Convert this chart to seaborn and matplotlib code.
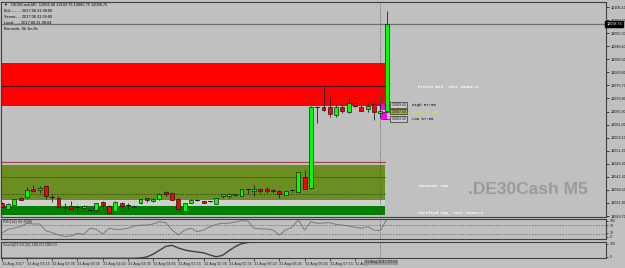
import numpy as np
import pandas as pd
import matplotlib
matplotlib.use("Agg")
import matplotlib.pyplot as plt
import matplotlib.transforms as mtrans
from matplotlib.patches import Rectangle
import seaborn as sns

# ---------------- data ----------------
opens = [12031.7, 12029.5, 12030.7, 12033.3, 12033.7, 12036.7, 12036.3, 12038.0, 12033.7, 12033.6,
         12029.7, 12030.5, 12030.0, 12029.6, 12029.0, 12028.8, 12031.8, 12030.5, 12028.5, 12031.5,
         12030.8, 12030.0, 12031.5, 12033.3, 12032.5, 12033.2, 12035.7, 12035.2, 12033.2, 12028.7,
         12031.7, 12032.7, 12032.3, 12032.2, 12031.3, 12034.2, 12034.2, 12034.5, 12034.3, 12036.7,
         12036.2, 12036.7, 12036.8, 12036.6, 12036.0, 12034.7, 12036.5, 12035.8, 12041.2, 12037.1,
         12067.5, 12067.7, 12067.7, 12064.6, 12067.5, 12065.8, 12069.0, 12067.5, 12066.7, 12068.7,
         12065.5, 12066.0]
highs = [12032.1, 12031.5, 12033.2, 12033.5, 12037.5, 12038.3, 12038.0, 12038.3, 12035.0, 12034.2,
         12031.5, 12032.3, 12030.8, 12030.8, 12029.1, 12031.7, 12032.5, 12030.7, 12032.5, 12032.1,
         12031.5, 12030.7, 12033.1, 12033.6, 12033.5, 12035.2, 12036.0, 12035.3, 12033.3, 12031.7,
         12032.9, 12033.1, 12032.4, 12032.3, 12033.4, 12035.1, 12035.2, 12035.1, 12036.8, 12037.0,
         12038.5, 12037.3, 12037.5, 12037.0, 12036.5, 12036.1, 12037.0, 12043.3, 12044.0, 12068.0,
         12068.0, 12074.6, 12071.7, 12068.7, 12068.7, 12071.5, 12070.0, 12068.3, 12069.0, 12069.0,
         12069.0, 12103.75]
lows = [12029.6, 12029.2, 12030.6, 12032.7, 12033.6, 12035.6, 12035.5, 12033.2, 12032.1, 12029.6,
        12028.0, 12029.2, 12028.0, 12029.2, 12028.9, 12028.6, 12030.2, 12027.9, 12028.2, 12029.6,
        12029.5, 12029.9, 12031.3, 12032.1, 12032.1, 12032.7, 12034.3, 12032.7, 12029.2, 12028.2,
        12031.6, 12032.3, 12031.4, 12032.1, 12031.2, 12033.3, 12033.3, 12034.3, 12034.2, 12034.8,
        12034.3, 12035.5, 12035.5, 12035.5, 12033.3, 12034.6, 12035.8, 12035.6, 12036.7, 12036.9,
        12061.7, 12066.2, 12064.0, 12064.0, 12065.2, 12065.2, 12067.7, 12066.0, 12065.8, 12062.7,
        12063.5, 12065.75]
closes = [12030.0, 12031.2, 12033.0, 12032.8, 12036.5, 12036.0, 12037.1, 12034.3, 12033.7, 12030.0,
          12030.1, 12029.3, 12030.0, 12030.3, 12029.0, 12031.5, 12030.7, 12028.0, 12032.1, 12030.3,
          12030.8, 12030.6, 12033.0, 12032.7, 12033.0, 12034.8, 12035.0, 12032.8, 12029.3, 12031.5,
          12032.8, 12032.7, 12031.5, 12032.2, 12033.3, 12034.8, 12035.0, 12035.0, 12036.7, 12036.7,
          12036.7, 12036.1, 12036.1, 12036.1, 12035.0, 12036.0, 12036.5, 12043.1, 12036.8, 12067.7,
          12067.5, 12066.5, 12065.0, 12067.5, 12066.2, 12069.2, 12068.0, 12066.2, 12068.0, 12065.6,
          12066.0, 12098.75]
rsi = [35, 52, 58, 64, 79, 76, 76, 46, 37, 27, 20, 23, 34, 30, 57, 52, 31, 57, 52, 52,
       57, 67, 71, 71, 76, 86, 82, 49, 27, 49, 57, 42, 49, 64, 74, 79, 79, 85, 91, 89,
       57, 54, 54, 49, 27, 49, 61, 94, 49, 86, 79, 80, 82, 74, 71, 67, 61, 57, 64, 49,
       46, 94.8]
stoch = [0] * 22 + [2, 8, 25, 48, 72, 78, 62, 50, 43, 38, 33, 20, 9, 18, 45, 70, 88, 95, 98] + [100] * 21

price_ticks = [12105.10, 12100.20, 12095.30, 12090.40, 12085.50, 12080.60, 12075.70, 12070.80,
               12065.90, 12061.00, 12056.10, 12051.20, 12046.30, 12041.40, 12036.50, 12031.60, 12026.70]
time_label_idx = [0, 4, 8, 12, 16, 20, 24, 28, 32, 36, 40, 44, 48, 52, 56]
time_labels = ["31 Aug 2017", "31 Aug 03:15", "31 Aug 03:35", "31 Aug 03:55", "31 Aug 04:15",
               "31 Aug 04:35", "31 Aug 04:55", "31 Aug 05:15", "31 Aug 05:35", "31 Aug 05:55",
               "31 Aug 06:15", "31 Aug 06:35", "31 Aug 06:55", "31 Aug 07:15", "31 Aug 07:35"]

# zones: (low, high)
res_zone = (12068.0, 12084.2)
res_mid = 12075.5
turncoat_zone = (12032.7, 12045.95)
turncoat_blue = 12041.3
turncoat_dash = 12034.9
verified_zone = (12027.1, 12030.6)
red_line = 12047.1
bid = 12098.75

# ---------------- style ----------------
sns.set_theme(style="white", rc={"axes.facecolor": "#c0c0c0", "figure.facecolor": "#c0c0c0"})
SANS = ["Liberation Sans", "DejaVu Sans"]
MONO = ["Liberation Mono", "DejaVu Sans Mono"]
plt.rcParams["font.family"] = SANS

W, H = 625, 268
fig = plt.figure(figsize=(W / 100, H / 100), dpi=100)

def frac_box(x0, y0, x1, y1):
    return [x0 / W, 1 - y1 / H, (x1 - x0) / W, (y1 - y0) / H]

X0, X1 = 1, 606
ax = fig.add_axes(frac_box(X0, 2, X1, 217.3))
ax_r = fig.add_axes(frac_box(X0, 219.3, X1, 239.3), sharex=ax)
ax_s = fig.add_axes(frac_box(X0, 241.7, X1, 258.3), sharex=ax)

step = 6.31
x_first = 1.7
xl = ((X0 - x_first) / step, (X1 - x_first) / step)
idx = np.arange(len(opens))

for a in (ax, ax_r, ax_s):
    a.set_facecolor("#c0c0c0")
    for s in a.spines.values():
        s.set_color("#404040")
        s.set_linewidth(0.8)
    a.set_xlim(*xl)

ax.set_ylim(12026.22, 12106.98)
ax_r.set_ylim(7.8, 96.7)
ax_s.set_ylim(0, 100)

zone_end = 60.75
ax.fill_between([xl[0], zone_end], res_zone[0], res_zone[1], color="#ff0000", lw=0, zorder=1)
ax.plot([xl[0], zone_end], [res_mid, res_mid], color="#400000", lw=0.8, zorder=1.5)
ax.fill_between([xl[0], zone_end], turncoat_zone[0], turncoat_zone[1], color="#6b8e23", lw=0, zorder=1)
ax.fill_between([xl[0], zone_end], verified_zone[1], turncoat_zone[0], color="#d0d0d0", lw=0, zorder=0.9)
ax.plot([xl[0], zone_end], [turncoat_blue] * 2, color="#3040c0", lw=0.5, zorder=1.5)
ax.plot([xl[0], zone_end], [turncoat_dash] * 2, color="#2e4a10", lw=0.6, ls=(0, (2, 1.5)), zorder=1.5)
ax.fill_between([xl[0], zone_end], verified_zone[0], verified_zone[1], color="#008000", lw=0, zorder=1)
ax.plot([xl[0], zone_end], [red_line] * 2, color="#a04848", lw=0.9, zorder=1.5)
ax.plot([xl[0], zone_end], [red_line - 0.45] * 2, color="#d8b0b0", lw=0.6, zorder=1.5)

ax.axhline(bid, color="#707070", lw=0.9, zorder=1.2)

mag = [(59.9, 12066.65, 12068.55), (60.05, 12062.7, 12065.7)]
for x0, lo, hi in mag:
    ax.add_patch(Rectangle((x0, lo), 61.0 - x0, hi - lo, color="#ff00ff", lw=0, zorder=1.6))

# candles
df = pd.DataFrame({"i": idx, "o": opens, "h": highs, "l": lows, "c": closes})
ax.vlines(df["i"], df["l"], df["h"], color="#202020", lw=0.6, zorder=2)
bw = 0.62
for r in df.itertuples():
    lo, hi = min(r.o, r.c), max(r.o, r.c)
    if hi - lo < 0.15:
        ax.plot([r.i - bw / 2, r.i + bw / 2], [r.o, r.o], color="#101010", lw=0.7, zorder=3)
        continue
    col = "#00ff00" if r.c > r.o else "#ff0000"
    ax.add_patch(Rectangle((r.i - bw / 2, lo), bw, hi - lo, facecolor=col,
                           edgecolor="#101010", lw=0.45, zorder=3))

# price boxes beside last candle
boxes = [(12068.45, "12069.00", "High 07:55", "#c8c8c8", "#000000"),
         (12065.90, "12067.50", "Close 07:55", "#a8a838", "#e8e800"),
         (12063.10, "12063.50", "Low 07:55", "#c8c8c8", "#000000")]
for yv, lab, txt, bc, tc in boxes:
    ax.plot([60.4, 61.7], [yv, yv], color="#303030", lw=0.5, zorder=2.5)
    ax.text(61.75, yv, lab, fontsize=2.6, va="center", ha="left", color="#202020", zorder=5,
            bbox=dict(boxstyle="square,pad=0.25", fc=bc, ec="#303030", lw=0.5))
    ax.text(65.0, yv, txt, fontsize=2.9, va="center", ha="left", color=tc, zorder=5, family=MONO)

# zone labels
zl = dict(fontsize=2.95, color="white", family=MONO, fontweight="bold", va="center", ha="left")
ax.text(66.0, 12075.1, "Proven Res, Test Count=4", **zl)
ax.text(66.0, 12038.0, "Turncoat Sup", **zl)
ax.text(66.0, 12027.8, "Verified Sup, Test Count=3", **zl)

# watermark
fig.text(527.5 / W, 1 - 190 / H, ".DE30Cash M5", fontsize=12.5, fontweight="bold",
         color="#9a9a9a", ha="center", va="center", family=SANS)

for a in (ax, ax_r, ax_s):
    a.axvline(60, color="#505050", lw=0.6, ls=(0, (1, 1.5)), zorder=1.8)

# right price axis
ax.yaxis.tick_right()
ax.set_yticks(price_ticks)
ax.set_yticklabels([f"{v:.2f}" for v in price_ticks])
ax.tick_params(axis="y", which="both", right=True, length=2, width=0.6, color="#202020",
               labelsize=2.7, pad=1.2, labelcolor="#101010")
ax.tick_params(axis="x", bottom=False, labelbottom=False)
ax.text(1.001, bid, f"{bid:.2f}", transform=mtrans.blended_transform_factory(ax.transAxes, ax.transData),
        fontsize=2.7, color="white", va="center", ha="left",
        bbox=dict(boxstyle="square,pad=0.3", fc="black", ec="black"))

# header text
hdr = ["\u25BC  .DE30Cash,M5  12066.00 12103.75 12065.75 12098.75",
       "Bid.........: 2017.08.31 08:00",
       "Server....: 2017.08.31 09:00",
       "Local.....: 2017.08.31 08:04",
       "Bar ends: 0h 1m 9s"]
for k, t in enumerate(hdr):
    fig.text(4 / W, 1 - (4.5 + 6.2 * k) / H, t, fontsize=2.8, color="black", va="center", ha="left",
             family=SANS)

# RSI panel
sns.lineplot(x=idx, y=rsi, ax=ax_r, color="#7a7a7a", lw=0.7)
for lvl in (70, 30):
    ax_r.axhline(lvl, color="#606060", lw=0.5, ls=(0, (2, 2)))
ax_r.text(0.003, 0.86, "RSI(14) 94.8096", transform=ax_r.transAxes, fontsize=2.8, va="center")
ax_r.yaxis.tick_right()
ax_r.set_yticks([90.4, 70, 37, 19.3])
ax_r.set_yticklabels(["100", "70", "30", "0"])
ax_r.tick_params(axis="y", right=True, length=1.5, width=0.5, labelsize=2.6, pad=1.2)
ax_r.tick_params(axis="x", bottom=False, labelbottom=False)
ax_r.set_ylabel("")

# Stoch panel
sns.lineplot(x=idx, y=stoch, ax=ax_s, color="#404040", lw=1.0)
ax_s.text(0.003, 0.8, "Stoch(23,50,10) 100.00 100.00", transform=ax_s.transAxes, fontsize=2.8, va="center")
ax_s.yaxis.tick_right()
ax_s.set_yticks([88, 10])
ax_s.set_yticklabels(["100", "0"])
ax_s.tick_params(axis="y", right=True, length=1.5, width=0.5, labelsize=2.6, pad=1.2)
ax_s.set_ylabel("")
ax_s.set_xticks(time_label_idx)
ax_s.set_xticklabels(time_labels, ha="left")
ax_s.tick_params(axis="x", bottom=True, length=2, width=0.5, labelsize=2.8, pad=1)
ax_s.set_xlim(*xl)

fig.text(381 / W, 1 - 262.5 / H, "31 Aug 2017 07:55", fontsize=2.8, ha="center", va="center",
         color="#303030", bbox=dict(boxstyle="square,pad=0.25", fc="#989898", ec="none"))

fig.savefig("out.png", dpi=100, facecolor=fig.get_facecolor())
